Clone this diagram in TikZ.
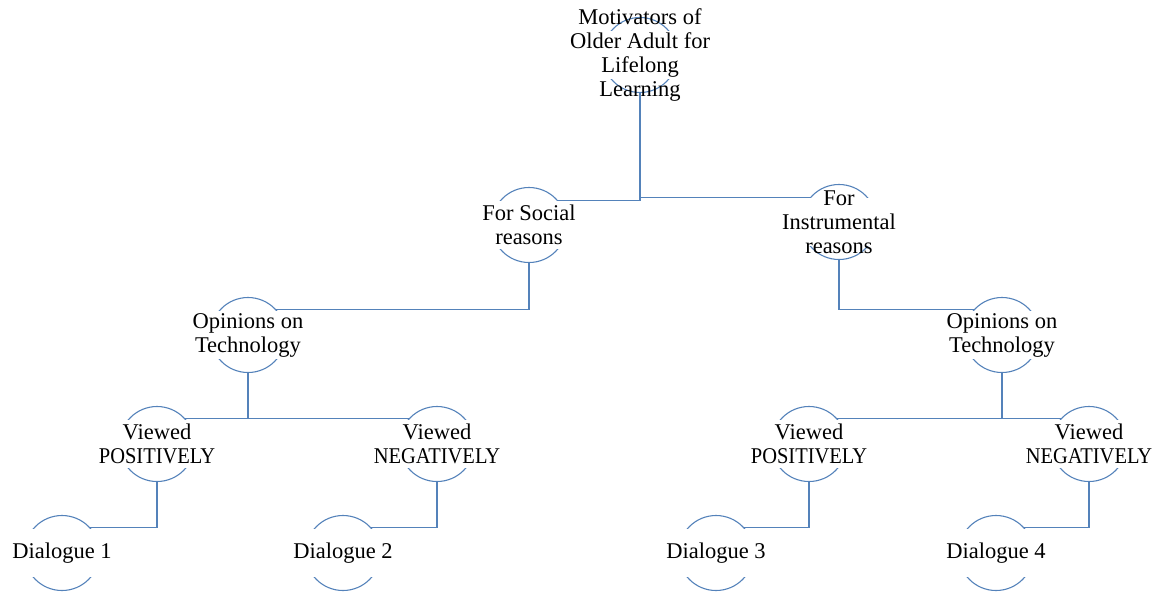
\documentclass[tikz,border=0pt]{standalone}
\usepackage{fontspec}
\setmainfont{Liberation Serif}
\begin{document}
\definecolor{linkblue}{RGB}{84,130,186}
\tikzset{
  ring/.style={circle, draw=linkblue, line width=1.1pt, minimum size=75pt, inner sep=0pt},
  panel/.style={rectangle, fill=white, draw=none, minimum width=82pt, minimum height=48pt, inner sep=0pt},
  label text/.style={align=center, inner sep=0pt, text=black, font=\fontsize{22.5}{24}\selectfont},
  link/.style={draw=linkblue, line width=1.2pt}
}
% a circle, a white panel across its middle and the centred text
\newcommand\ringnode[4]{%
  \node[ring] (#1) at (#2,#3) {};
  \node[panel] (#1-bg) at (#1.center) {};
  \node[label text] (#1-t) at (#1.center) {#4};
}
% capitals set a little narrower
\newcommand\narrowcaps[1]{\scalebox{0.91}[1]{#1}}
\begin{tikzpicture}[x=1pt,y=-1pt]
\useasboundingbox (0,0) rectangle (1158,592);
\ringnode{root}{640}{55}{Motivators of\\Older Adult for\\Lifelong\\Learning}
\ringnode{social}{529}{225}{For Social\\reasons}
\ringnode{instr}{839}{222}{For\\Instrumental\\reasons}
\ringnode{opl}{248}{335}{Opinions on\\Technology}
\ringnode{opr}{1002}{335}{Opinions on\\Technology}
\ringnode{vpl}{157}{444}{Viewed\\\narrowcaps{POSITIVELY}}
\ringnode{vnl}{437}{444}{Viewed\\\narrowcaps{NEGATIVELY}}
\ringnode{vpr}{809}{444}{Viewed\\\narrowcaps{POSITIVELY}}
\ringnode{vnr}{1089}{444}{Viewed\\\narrowcaps{NEGATIVELY}}
\ringnode{dl1}{62}{553}{Dialogue 1}
\ringnode{dl2}{343}{553}{Dialogue 2}
\ringnode{dl3}{716}{553}{Dialogue 3}
\ringnode{dl4}{996}{553}{Dialogue 4}
% elbow connectors
\draw[link] (root.south) |- (social.40);
\draw[link] (root.south) |- (instr.140);
\draw[link] (social.south) |- (opl.42);
\draw[link] (instr.south) |- (opr.138);
\draw[link] (opl.south) |- (vpl.42);
\draw[link] (opl.south) |- (vnl.138);
\draw[link] (opr.south) |- (vpr.42);
\draw[link] (opr.south) |- (vnr.138);
\draw[link] (vpl.south) |- (dl1.42);
\draw[link] (vnl.south) |- (dl2.42);
\draw[link] (vpr.south) |- (dl3.42);
\draw[link] (vnr.south) |- (dl4.42);
\end{tikzpicture}
\end{document}
